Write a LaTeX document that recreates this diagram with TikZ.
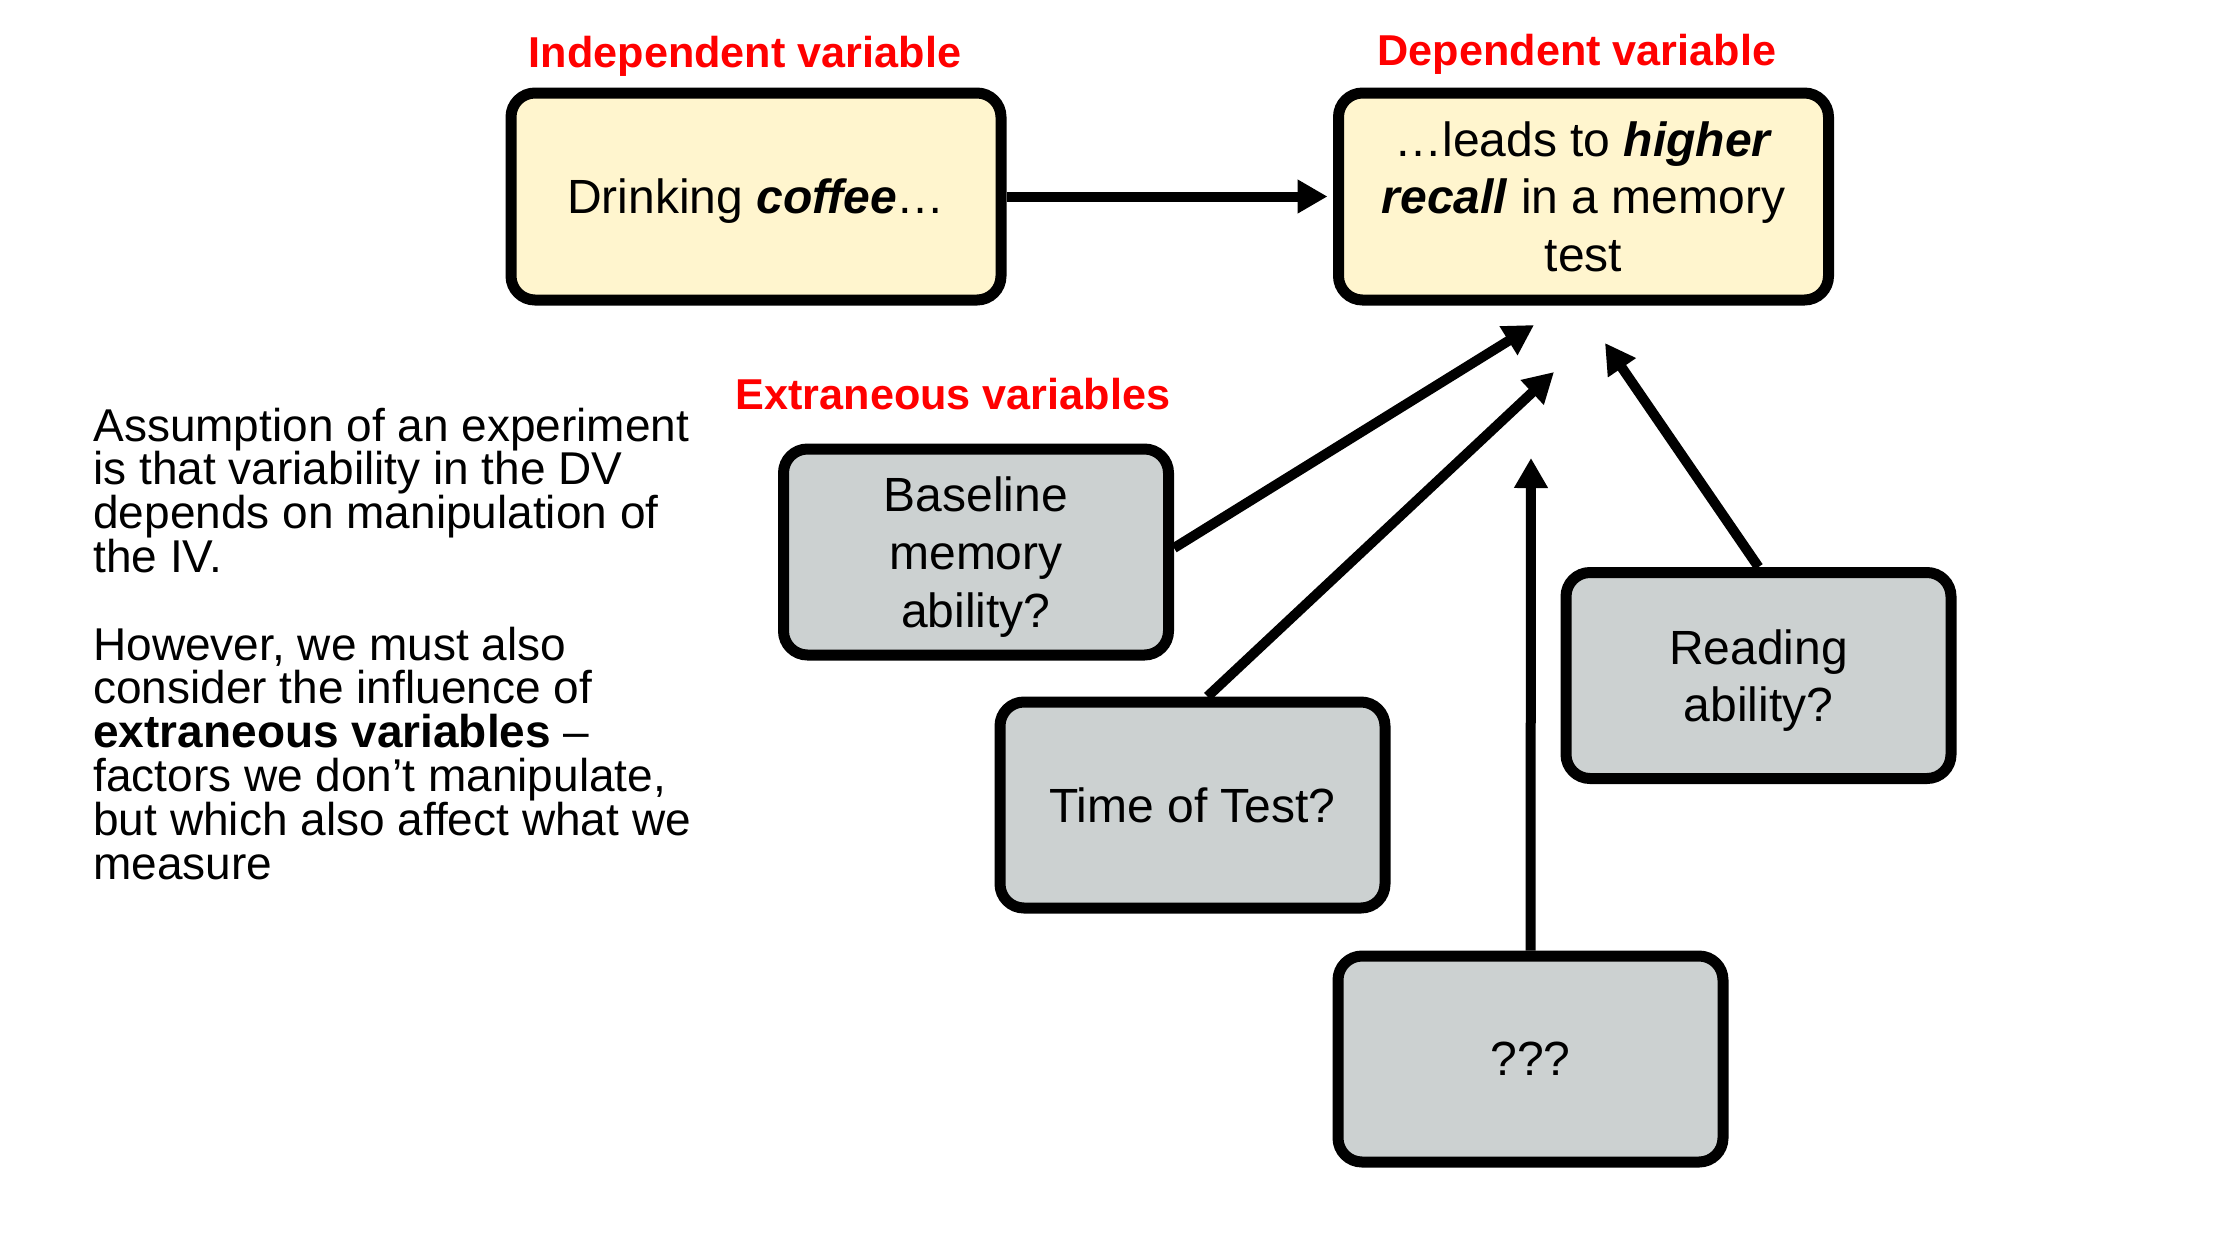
\documentclass[tikz,border=0pt]{standalone}
\usepackage{fontspec}
\setmainfont{Liberation Sans}
\usetikzlibrary{arrows.meta}
\definecolor{boxyellow}{RGB}{255,245,206}
\definecolor{boxgray}{RGB}{204,209,209}
\definecolor{labelred}{RGB}{255,0,0}
\newcommand{\myboxfont}{\fontsize{24pt}{28.8pt}\selectfont}
\newcommand{\myredfont}{\fontsize{21.6pt}{26pt}\selectfont\bfseries}
\begin{document}
\begin{tikzpicture}[x=0.5pt,y=-0.5pt,
  ivbox/.style={draw=black, line width=5.5pt, rounded corners=12pt, fill=boxyellow,
    minimum width=245pt, minimum height=103.5pt, align=center, inner sep=0pt,
    text depth=0pt, font=\myboxfont},
  exbox/.style={draw=black, line width=5.5pt, rounded corners=12pt, fill=boxgray,
    minimum width=192.5pt, minimum height=103pt, align=center, inner sep=0pt,
    text depth=0pt, font=\myboxfont},
  redlabel/.style={text=labelred, font=\myredfont, anchor=base, inner sep=0pt},
  conn/.style={line width=5pt, -{Triangle[length=15pt,width=16pt]}}
]
\fill[white] (0,0) rectangle (2238,1244);
\useasboundingbox (0,0) rectangle (2238,1244);

% labels
\node[redlabel] (lIV) at (745,67.7) {Independent variable};
\node[redlabel] (lDV) at (1577,65) {Dependent variable};
\node[redlabel] (lEx) at (953,409) {Extraneous variables};

% boxes
\node[ivbox] (nIV) at (756,196.5) {Drinking \textbf{\textit{coffee}}…};
\node[ivbox] (nDV) at (1583.5,196.5) {…leads to \textbf{\textit{higher}}\\ \textbf{\textit{recall}} in a memory\\ test};
\node[exbox] (nBase) at (976,552) {Baseline\\ memory\\ ability?};
\node[exbox] (nTime) at (1192.5,805) {Time of Test?};
\node[exbox] (nRead) at (1758.5,675.5) {Reading\\ ability?};
\node[exbox] (nQ) at (1530.5,1059) {???};

% paragraph
\node[anchor=base west, inner sep=0pt] (para) at (93,441) {\parbox[t]{420pt}{\fontsize{23pt}{21.9pt}\selectfont\lineskiplimit=-30pt\raggedright
Assumption of an experiment\\
is that variability in the DV\\
depends on manipulation of\\
the IV.\\[21.9pt]
However, we must also\\
consider the influence of\\
\textbf{extraneous variables} –\\
factors we don’t manipulate,\\
but which also affect what we\\
measure}};

% arrow targets
\coordinate (tB) at (1534,325);
\coordinate (tT) at (1554,372);
\coordinate (tR) at (1605,343);
\coordinate (tQ) at (1531,458);

% connectors
\draw[conn, shorten >=2.75pt] (nIV.east) -- (nDV.west);
\draw[conn] ([yshift=2pt]nBase.east) -- (tB);
\draw[conn] ([xshift=7.5pt]nTime.north) -- (tT);
\draw[conn] (nQ.north) -- (tQ);
\draw[conn] (nRead.north) -- (tR);
\end{tikzpicture}
\end{document}
